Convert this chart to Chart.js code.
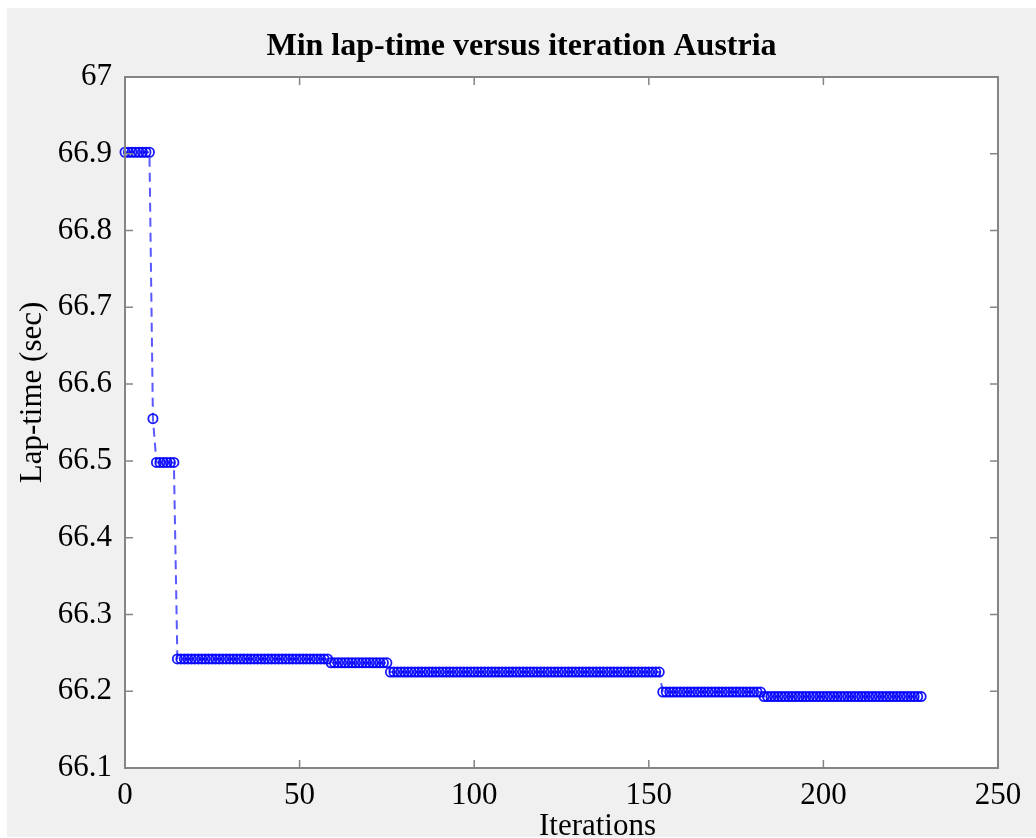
<!DOCTYPE html>
<html lang="en">
  <head>
    <meta charset="utf-8" />
    <title>Min lap-time versus iteration Austria</title>
    <script src="https://cdn.jsdelivr.net/npm/chart.js"></script>
    <style>
      body {
        margin: 0;
        background: #ffffff;
      }
      #frame {
        position: absolute;
        left: 7px;
        top: 8px;
        width: 1029px;
        height: 829px;
        background: #f0f0f0;
      }
    </style>
  </head>

  <body>
    <div id="frame">
      <canvas id="lapChart" width="1029" height="829"></canvas>
    </div>

    <script>
      var chartTitle = "Min lap-time versus iteration Austria";
      var xTitle = "Iterations";
      var yTitle = "Lap-time (sec)";

      var xTicks = [0, 50, 100, 150, 200, 250];
      var yTicks = [66.1, 66.2, 66.3, 66.4, 66.5, 66.6, 66.7, 66.8, 66.9, 67];

      // min lap-time found so far, one value per iteration (0..228)
      var lapTimes = [
        66.902, 66.902, 66.902, 66.902, 66.902, 66.902, 66.902, 66.902,
        66.555,
        66.498, 66.498, 66.498, 66.498, 66.498, 66.498,
        66.242, 66.242, 66.242, 66.242, 66.242, 66.242, 66.242, 66.242, 66.242, 66.242,
        66.242, 66.242, 66.242, 66.242, 66.242, 66.242, 66.242, 66.242, 66.242, 66.242,
        66.242, 66.242, 66.242, 66.242, 66.242, 66.242, 66.242, 66.242, 66.242, 66.242,
        66.242, 66.242, 66.242, 66.242, 66.242, 66.242, 66.242, 66.242, 66.242, 66.242,
        66.242, 66.242, 66.242, 66.242,
        66.237, 66.237, 66.237, 66.237, 66.237, 66.237, 66.237, 66.237, 66.237, 66.237,
        66.237, 66.237, 66.237, 66.237, 66.237, 66.237, 66.237,
        66.225, 66.225, 66.225, 66.225, 66.225, 66.225, 66.225, 66.225, 66.225, 66.225,
        66.225, 66.225, 66.225, 66.225, 66.225, 66.225, 66.225, 66.225, 66.225, 66.225,
        66.225, 66.225, 66.225, 66.225, 66.225, 66.225, 66.225, 66.225, 66.225, 66.225,
        66.225, 66.225, 66.225, 66.225, 66.225, 66.225, 66.225, 66.225, 66.225, 66.225,
        66.225, 66.225, 66.225, 66.225, 66.225, 66.225, 66.225, 66.225, 66.225, 66.225,
        66.225, 66.225, 66.225, 66.225, 66.225, 66.225, 66.225, 66.225, 66.225, 66.225,
        66.225, 66.225, 66.225, 66.225, 66.225, 66.225, 66.225, 66.225, 66.225, 66.225,
        66.225, 66.225, 66.225, 66.225, 66.225, 66.225, 66.225, 66.225,
        66.199, 66.199, 66.199, 66.199, 66.199, 66.199, 66.199, 66.199, 66.199, 66.199,
        66.199, 66.199, 66.199, 66.199, 66.199, 66.199, 66.199, 66.199, 66.199, 66.199,
        66.199, 66.199, 66.199, 66.199, 66.199, 66.199, 66.199, 66.199, 66.199,
        66.193, 66.193, 66.193, 66.193, 66.193, 66.193, 66.193, 66.193, 66.193, 66.193,
        66.193, 66.193, 66.193, 66.193, 66.193, 66.193, 66.193, 66.193, 66.193, 66.193,
        66.193, 66.193, 66.193, 66.193, 66.193, 66.193, 66.193, 66.193, 66.193, 66.193,
        66.193, 66.193, 66.193, 66.193, 66.193, 66.193, 66.193, 66.193, 66.193, 66.193,
        66.193, 66.193, 66.193, 66.193, 66.193, 66.193,
      ];
      var iterations = lapTimes.map((v, i) => i);

      var serif = "'Liberation Serif', 'Times New Roman', serif";

      // white axes box, gray outline, inward ticks on all four sides, axis titles
      let matlabBox = {
        id: "matlabBox",
        beforeDraw: (chart) => {
          let { ctx, chartArea: a } = chart;
          ctx.save();
          ctx.fillStyle = "#ffffff";
          ctx.fillRect(a.left, a.top, a.right - a.left, a.bottom - a.top);
          ctx.restore();
        },
        afterDraw: (chart) => {
          let { ctx, chartArea: a, scales } = chart;
          ctx.save();
          ctx.strokeStyle = "#858585";
          ctx.lineWidth = 2;
          ctx.strokeRect(a.left, a.top, a.right - a.left, a.bottom - a.top);

          ctx.beginPath();
          xTicks.forEach((t) => {
            let px = scales.x.getPixelForValue(t);
            ctx.moveTo(px, a.bottom);
            ctx.lineTo(px, a.bottom - 8);
            ctx.moveTo(px, a.top);
            ctx.lineTo(px, a.top + 8);
          });
          yTicks.forEach((t) => {
            let py = scales.y.getPixelForValue(t);
            ctx.moveTo(a.left, py);
            ctx.lineTo(a.left + 8, py);
            ctx.moveTo(a.right, py);
            ctx.lineTo(a.right - 8, py);
          });
          ctx.lineWidth = 1.5;
          ctx.stroke();

          ctx.fillStyle = "#000000";
          ctx.font = "31px " + serif;
          ctx.textAlign = "center";
          ctx.textBaseline = "middle";
          ctx.fillText(xTitle, (a.left + a.right) / 2 + 36, a.bottom + 59);
          ctx.translate(26, (a.top + a.bottom) / 2 - 30);
          ctx.rotate(-Math.PI / 2);
          ctx.fillText(yTitle, 0, 0);
          ctx.restore();
        },
      };

      let showLapChart = () => {
        new Chart(document.getElementById("lapChart"), {
          type: "line",
          data: {
            labels: iterations,
            datasets: [
              {
                label: yTitle,
                data: lapTimes,
                borderColor: "rgba(60, 60, 255, 0.85)",
                borderWidth: 2,
                borderDash: [9, 6],
                pointRadius: 4.6,
                pointBorderWidth: 1.8,
                pointBorderColor: "rgba(0, 0, 255, 0.9)",
                pointBackgroundColor: "rgba(0, 0, 0, 0)",
                fill: false,
                tension: 0,
                clip: false,
              },
            ],
          },
          options: {
            responsive: false,
            animation: false,
            layout: { padding: { left: 38, top: 0, right: 38, bottom: 0 } },
            plugins: {
              legend: { display: false },
              tooltip: { enabled: false },
              title: {
                display: true,
                text: chartTitle,
                color: "#000000",
                font: { family: serif, size: 32, weight: "bold" },
                padding: { top: 20, bottom: 10.6 },
              },
            },
            scales: {
              x: {
                type: "linear",
                min: 0,
                max: 250,
                afterBuildTicks: (scale) => {
                  scale.ticks = xTicks.map((v) => ({ value: v }));
                },
                afterFit: (scale) => {
                  scale.height = 69;
                },
                grid: { display: false },
                border: { display: false },
                ticks: {
                  color: "#000000",
                  padding: 1,
                  maxRotation: 0,
                  font: { family: serif, size: 31 },
                },
              },
              y: {
                type: "linear",
                min: 66.1,
                max: 67,
                afterBuildTicks: (scale) => {
                  scale.ticks = yTicks.map((v) => ({ value: v }));
                },
                afterFit: (scale) => {
                  scale.width = 80;
                },
                grid: { display: false },
                border: { display: false },
                ticks: {
                  color: "#000000",
                  padding: 5,
                  font: { family: serif, size: 31 },
                  callback: (v) => String(Number(v.toFixed(1))),
                },
              },
            },
          },
          plugins: [matlabBox],
        });
      };

      showLapChart();
    </script>
  </body>
</html>
